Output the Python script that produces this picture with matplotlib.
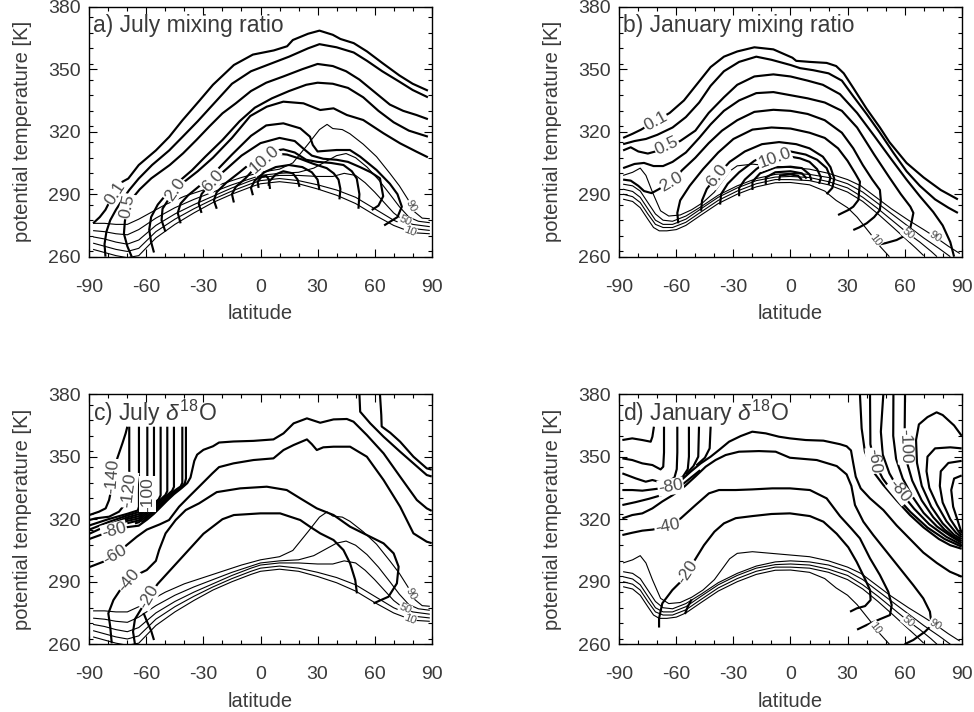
import numpy as np
import matplotlib
matplotlib.use("Agg")
import matplotlib.pyplot as plt
from matplotlib.ticker import FixedLocator, MultipleLocator

plt.rcParams['font.family'] = ['Liberation Sans', 'DejaVu Sans']
plt.rcParams['mathtext.fontset'] = 'custom'
plt.rcParams['mathtext.rm'] = 'Liberation Sans'
plt.rcParams['mathtext.it'] = 'Liberation Sans:italic'
plt.rcParams['axes.unicode_minus'] = False

# ---------------- axes / ticks ----------------
LAT_TICKS = [-90, -60, -30, 0, 30, 60, 90]
THETA_TICKS = [260, 290, 320, 350, 380]
TITLES = ["a) July mixing ratio", "b) January mixing ratio",
          r"c) July $\delta^{18}$O", r"d) January $\delta^{18}$O"]

# ---------------- thin lines (10..90), July: panels a and c ----------------
JUL_F90 = [(-88,276),(-82,276),(-76,275.5),(-70,275.5),(-64,278),(-58,281),(-50,285),(-40,289),(-30,292),(-20,295),(-10,298),(0,300.5),(10,302),(17,305),(25,314),(31,321),(35,323.5),(38,321.5),(43,321),(47,319),(54,314),(61,308),(68,300),(73,294),(77.5,287.5),(81,281.5),(85,278.5),(89,278.2)]
JUL_F70 = [(-88,272.5),(-82,272),(-76,271),(-70,270.5),(-64,273),(-55,278.5),(-45,283.5),(-35,287.5),(-25,291),(-15,294.5),(-5,297.5),(0,299),(10,300),(20,300.5),(28,302.5),(35,306),(40,308.5),(45,309.5),(50,307.5),(56,303),(62,297),(68,290),(73,284),(78,279),(83,277),(89,276.3)]
JUL_F50 = [(-88,269.5),(-82,268.5),(-76,267),(-70,266),(-64,268),(-55,275),(-45,280.5),(-35,285),(-25,289),(-15,293),(-5,296.5),(0,298),(10,299),(20,299),(30,298.5),(38,298.5),(44,300),(50,299),(55,295.5),(60,291),(65,286),(70,281),(75,277.5),(80,275.5),(89,274.4)]
JUL_F30 = [(-88,266.5),(-82,265),(-76,263.5),(-70,262.5),(-64,264),(-55,272),(-45,278),(-35,283),(-25,287.5),(-15,291.5),(-5,295),(0,296.5),(10,297.5),(20,296.5),(30,294.5),(40,292),(50,288.5),(60,283),(70,277.5),(80,273.5),(89,272.6)]
JUL_F10 = [(-88,263.5),(-82,262),(-76,260.5),(-70,259.5),(-64,260.5),(-55,269),(-45,275.5),(-35,281),(-25,286),(-15,290),(-5,293.5),(0,295),(10,296),(20,295),(30,292.5),(40,289.5),(50,285.5),(60,280),(70,275),(80,271.5),(89,271)]

# ---------------- thin lines, January: panels b and d ----------------
JAN_F90 = [(-88,299),(-83,300.5),(-79,302.5),(-76,299),(-72.6,291),(-68.3,282),(-64,279.5),(-58,280),(-52,282.5),(-46,286),(-40,291),(-36,296),(-32,301),(-28,303.6),(-20,304.4),(-10,303.6),(0,302.8),(10,302),(20,300),(30,297),(37,294),(45,288.5),(53,283),(62,277.5),(70,273),(76,269.5),(83,265),(89,261.5)]
JAN_F70 = [(-88,294.8),(-83,294),(-79,291.5),(-75,286),(-71,280.5),(-67,277.5),(-62,277),(-55,279.5),(-47,284),(-38,289.5),(-28,294),(-18,297.5),(-8,299.5),(0,300),(10,299.5),(20,298),(30,295),(38,291),(46,285.5),(54,280),(62,274.5),(70,269),(78,264),(84,260)]
JAN_F50 = [(-88,292.4),(-83,291.3),(-79,288.5),(-75,283),(-71,277.5),(-67,275.5),(-62,275.5),(-55,278),(-47,283),(-38,288.5),(-28,293),(-18,296.5),(-8,298.2),(0,298.5),(10,298),(20,296),(30,293),(38,288.5),(46,283),(54,277),(62,271),(68,267),(74,262.5),(77,260)]
JAN_F30 = [(-88,290),(-83,288.8),(-79,286),(-75,280.5),(-71,275.5),(-67,274),(-62,274),(-55,276.5),(-47,281.5),(-38,287),(-28,291.5),(-18,295),(-8,297),(0,297),(10,296.5),(20,294.5),(30,291),(38,286.5),(46,280.5),(54,274),(60,269),(66,264),(70,260.5)]
JAN_F10 = [(-88,287.6),(-83,286.5),(-79,283.5),(-75,278),(-72,274),(-69,272.4),(-65,272.4),(-60,273),(-55,275),(-47,280),(-38,285.5),(-28,290),(-18,293.5),(-8,295.5),(0,295.6),(10,294.5),(18,291.5),(24,287),(30,283.5),(35,279),(42,271),(47,265),(52,260)]

# ---------------- panel a: July mixing ratio (thick) ----------------
A_Q01 = [(-88,276),(-84.5,279),(-81.5,282.5),(-79,287),(-76.5,290.5),(-72.5,296),(-69.5,297.5),(-64,304),(-55,311),(-48,317.5),(-41,325.5),(-32,335),(-25,342.5),(-14,352),(-4,357),(7,359),(14,361),(17,364),(25,367),(31,368.5),(38,366.5),(42,364.5),(49,362.5),(56,358.5),(64,353),(73,347),(80,343),(88,339.7)]
A_Q02 = [(-81.5,260),(-82,266),(-81,272),(-79,277.5),(-76,282.5),(-72.5,287.5),(-69,292),(-64,297.5),(-57,304),(-48,311),(-41,317.5),(-33,325),(-25,333),(-15,343),(-5,349),(5,352.5),(15,356),(25,360),(31,362),(40,360.5),(49,358),(56,354),(64,349),(73,344),(80,340),(88,336.5)]
A_Q05 = [(-67.7,260),(-70,265),(-71.8,271),(-71.3,277),(-69.8,284),(-66.5,289),(-63.5,292.3),(-57.4,297.6),(-47.7,304),(-40.7,309.6),(-33.7,316),(-27,322.4),(-20,328.8),(-13,333.6),(-5,339.5),(3,343.5),(12,346.5),(22,350),(30,352.5),(38,351.5),(45,349),(52,345),(60,339),(68,333),(75,330),(82,328),(88,326)]
A_Q1 = [(-56,262),(-57.5,267),(-58.5,273),(-57.5,279),(-54,285),(-49,290.5),(-43,296),(-36,301.5),(-29,308),(-20,316),(-11,325),(-3,331.5),(6,336),(15,339.5),(24,342.5),(30,343.5),(38,343),(46,341),(54,336.5),(62,330),(70,324.5),(78,320.5),(88,317.6)]
A_Q2 = [(-50,272),(-52,277.5),(-51.5,283),(-48,288),(-45,292),(-40,296),(-33,301),(-25,307.5),(-15,317),(-5.4,327.5),(3.3,332),(12,334.4),(22.6,333.6),(31.4,330.4),(38.4,331.2),(45.4,328),(54,325.6),(64.7,319.2),(73.4,314.4),(82,310.4),(88,307.7)]
A_Q4 = [(-42,276),(-43.5,281),(-42,285.5),(-38,289.5),(-32,294),(-24,300.5),(-15,309),(-5,318),(3,323),(12,324),(20.9,321.6),(26,317.6),(27.5,313.6),(30,310.5),(40,311.2),(47,311.2),(52.4,308),(61,301.6),(68,295),(72,290),(74.3,284),(72,279),(65,275)]
A_Q6 = [(-31,281),(-32.5,285.5),(-31,290),(-27,294.5),(-25,296.5),(-18,302),(-10,308.5),(0,314.5),(10,317),(18,315.5),(23,311.5),(27,308.5),(33,307),(40,306.5),(46,305.5),(52.3,303),(58,300.5),(62.8,297.6),(64.5,289),(62,284.5),(58.5,282.4)]
A_Q8 = [(-23,283),(-24.5,287),(-23,291),(-18,295.5),(-11,300.5),(-3,306.5),(5,310.5),(12,311.5),(18,310),(24,306.5),(30,305.5),(37,305),(43.6,304),(48,301),(50.6,297.5),(52,290),(51.5,283)]
A_Q10 = [(-14,286),(-15,290),(-13,293.5),(-8,297.5),(-2,303.5),(3,307.5),(8,309.5),(14,309),(20.8,307),(28,304.5),(34.8,302.5),(38.5,300),(41,297),(42,292.5),(41.5,287.5)]
A_Q12 = [(-4,289.5),(-5,293),(-3,296.5),(2,300.5),(8,303),(15,304),(22,303),(27,300.5),(30,297),(31,292)]
A_Q14 = [(5,292.5),(4.5,296),(8,299.5),(12,301),(17,300),(19.5,297),(20.5,293.5)]
A_Q16 = [(-1,293),(-1.5,296),(0.5,298.3),(3,298.8),(4.5,297),(4.3,294)]

# ---------------- panel b: January mixing ratio (thick) ----------------
B_Q01 = [(-88,317),(-83,319),(-78.5,321),(-74,323.5),(-70,325.5),(-63.5,329),(-56,335),(-49,343),(-42,351),(-35,356),(-28,358.5),(-19,360.5),(-9,359.5),(-4,357.5),(1,355.5),(3,354),(10,353.5),(19,353),(24,351.5),(28,348),(33,341),(40,331),(47,322),(52,315),(61,305),(70,298),(79,292),(88,287.5)]
B_Q02 = [(-88,314),(-82,315.5),(-76,316.5),(-70,318.5),(-62,322),(-55,327),(-48,334),(-42,342),(-35,349),(-27,353.5),(-18,356),(-10,354.5),(0,352),(5,350.5),(12,349.5),(20,348),(27,344.5),(33,337),(40,328.5),(47,319.5),(54,310),(61,301),(68,294),(76,287.5),(83,283.5),(88,281)]
B_Q05 = [(-88,311),(-84,312.5),(-80,310.5),(-75,309.5),(-71,310.5),(-65,313),(-58,315.5),(-50,320.5),(-43,329),(-35,336.5),(-28,342.5),(-19,346.5),(-9,347.5),(0,346.5),(9,344.5),(17,342.5),(26,338),(35,329),(44,318),(52,308),(61,297),(68,289),(75,281.5),(80,275),(84,267),(86,260)]
B_Q1 = [(-88,302.5),(-82,304.5),(-77,305),(-72,303.5),(-67,303.5),(-62,305.5),(-55,310),(-48,317),(-42,323.5),(-35,330),(-27,335),(-18,338.5),(-9,339),(0,337.5),(9,336),(18,334),(27,330),(35,322),(44,309),(52,298),(58,290),(63,284),(64.6,281),(63.5,276),(62.8,273),(60,270),(55.8,268),(50,266.5),(45.3,265.6)]
B_Q2 = [(-88,297),(-84,296.5),(-80,294),(-77,291.5),(-73,290.5),(-69,292.5),(-62.5,296),(-57,301.5),(-50,307.5),(-43,314.5),(-36,320.5),(-28,325.5),(-19,329.5),(-9,330.5),(0,330),(9,328.5),(18,325.5),(27,319.5),(33,312),(38,304),(43,297),(47,292),(47.5,287),(47,282.4),(44,279),(40,276),(36,274),(33,272.8)]
B_Q4 = [(-59,276),(-59.5,281),(-58,287),(-53,294),(-46,302),(-38,310),(-30,316.5),(-20,321),(-10,322),(0,321.5),(10,319.5),(18,317),(25,312),(30,306),(34,300),(36.5,296),(36,290.5),(35.7,287.2),(33,284),(30.4,282.4),(25,280)]
B_Q6 = [(-47,282),(-46.5,287),(-44,292.5),(-38.5,299),(-32,305.5),(-24,310.5),(-15,314),(-6,315),(3,314),(10,312),(17,308),(21,303),(23,297.5),(22,293),(19,290)]
B_Q8 = [(-37,285),(-36.5,290),(-33,295),(-27,300.5),(-19,306),(-10,310),(0,310.5),(8,309),(14,306.5),(19,302.5),(21,298),(20,294.5)]
B_Q10 = [(-27,289),(-27,293),(-24,297),(-18,302),(-12,306),(-6,308),(0,308),(5,307.2),(10,305.5),(14,302),(16,298),(15,295)]
B_Q12 = [(-20,292),(-20,296),(-16,300),(-8,302.8),(0,303.2),(6,302.5),(10,299.5),(11,296.5)]
B_Q14 = [(-13,294.5),(-13,298),(-8,300.5),(0,301),(6,300),(8.5,297.5)]
B_Q16 = [(-6,296.5),(-5.5,299),(0,299.5),(4,298.8),(6,296.8)]

# ---------------- panel c: July delta18O (thick) ----------------
C_M140 = [(-90,322),(-84.9,323.6),(-81.4,325.2),(-79.6,329.2),(-78.5,334),(-77.9,340.4),(-76.5,346),(-74.4,351.6),(-72.6,356.4),(-70.9,361.2),(-70,364.4)]
C_M120 = [(-90,319.6),(-86.7,320.4),(-79.6,321.2),(-74.4,323.6),(-70.9,327.6),(-69.5,331),(-69.1,334),(-69,340),(-69,364.4)]
C_K0 = [(-90,317),(-80,320),(-70,322.6),(-64.5,324.2),(-63.9,326),(-63.9,340),(-63.9,364.4)]
C_K1 = [(-90,315),(-80,318.6),(-70,321.8),(-64,323.4),(-60.5,325.8),(-59.5,327.5),(-59.5,340),(-59.5,364.4)]
C_K2 = [(-90,313),(-80,317.2),(-70,320.9),(-64,322.4),(-59.5,325.7),(-57,327.6),(-56,329.5),(-56,340),(-56,364.4)]
C_K3 = [(-78,317.2),(-70,320.1),(-64,321.4),(-59.5,324.8),(-56,327.5),(-53.5,329.6),(-52.5,331.5),(-52.5,345),(-52.5,364.4)]
C_K4 = [(-74,317.6),(-70,319.2),(-64,320.4),(-59.5,323.8),(-56,326.6),(-52.5,329.5),(-50,331.6),(-49,333.5),(-49,345),(-49,364.4)]
C_K5 = [(-70,318.1),(-64,319.4),(-59.5,322.9),(-56,325.6),(-52.5,328.6),(-49,331.6),(-46.5,333.6),(-45.5,335.5),(-45.5,350),(-45.5,364.4)]
C_K6 = [(-66,318),(-64,318.5),(-59.5,321.8),(-56,324.5),(-52.5,327.6),(-49,330.6),(-45.5,333.5),(-42,335.7),(-41.1,337.5),(-41.1,350),(-41.1,364.4)]
C_K7 = [(-62.5,318.4),(-59.5,320.9),(-56,323.6),(-52.5,326.7),(-49,329.8),(-45.5,332.7),(-41.5,335.6),(-39.8,337.2),(-39.2,339.5),(-39.2,350),(-39.2,364.4)]
C_M80 = [(-90,310.5),(-80,313.8),(-70,316.2),(-64,316.9),(-59.5,319.9),(-56,322.6),(-52.5,325.8),(-49,329),(-45.5,332),(-41.5,334.9),(-38.5,337.3),(-36.8,340),(-35.8,344),(-34.8,348),(-33.3,351),(-30,353.3),(-25,355),(-21.8,356.8),(-14.2,357.3),(-3.7,357.6),(6.8,358.3),(12.1,361.2),(17.4,366),(24.4,368.4),(31.4,366.3),(38.4,367.9),(45.4,368.1),(48.9,366.8),(55.9,360.4),(64.7,351.6),(73.4,340.4),(82.2,329.2),(87.4,325.2),(90,324)]
C_M60 = [(-90,297),(-82.6,299.6),(-76.4,302.8),(-70.3,307.6),(-65,311.6),(-59.8,315),(-53,317.5),(-48.1,319.6),(-42.8,326),(-37.6,330.8),(-32.3,335.6),(-25.3,342),(-21.8,345),(-14.2,346.8),(-3.7,348.4),(6.8,349.2),(12.1,353.2),(17.4,355.6),(24.4,358.3),(27,356),(29.6,353.2),(33,354.5),(38.4,354.8),(47.1,354.8),(55.9,350),(64.7,338.8),(73.4,326),(80.4,313.2),(87.4,309.2),(90,308.5)]
C_M40 = [(-78.2,260.4),(-79,268.4),(-80,274.8),(-77.3,281.2),(-73.8,286),(-69.4,290.8),(-66.8,292.5),(-59.8,295.6),(-55,300),(-53.3,305.2),(-49.9,313.2),(-44.6,319.6),(-39.3,324.4),(-32.3,327.6),(-23,333),(-10.7,334.8),(3.3,335.6),(13.8,334),(20.9,330),(29.6,325.2),(38.4,322),(47.1,316.4),(55.9,312.4),(64.7,308.4),(70,303.6),(72.6,297.2),(71.7,289.2),(67.3,282.8),(59.4,279.6)]
C_M20 = [(-66,260),(-67,266),(-66,272),(-62,278),(-58.9,282.8),(-54,289),(-46,297),(-38,305),(-30,313),(-20,320),(-14,322),(0,322.8),(10.3,322.8),(15.6,321.2),(20.9,319.6),(26,316.4),(31.4,313.2),(38.4,310),(43.6,305.2),(47.1,298.8),(49.8,290.8),(50.7,284.4)]
C_HOOK = [(-61.5,275),(-59.5,270.5),(-57.5,266.5),(-56,262)]
C_N1 = [(52,380),(52.4,371.6),(57.7,366),(64.7,359.6),(73.4,352.4),(80.4,346.8),(87.4,341.2),(90,340.5)]
C_N2 = [(62.8,380),(63.5,370),(63.7,364.5),(68.2,361.5),(73.4,357.2),(80.4,350),(87.4,344.4),(90,343.8)]

# ---------------- panel d: January delta18O (thick) ----------------
D_M80 = [(-88.4,334),(-83.2,334),(-77.9,333.7),(-72.6,334.3),(-68.3,334.8),(-63,335.6),(-57.7,338.5),(-52.5,342.8),(-47.2,346.8),(-42,350),(-37.6,353.2),(-32.3,357.2),(-26.2,359.9),(-20.1,362),(-13,361.2),(-6.1,359.6),(-0.3,358.8),(8,358),(17.3,357.7),(26,356),(29.5,355),(31.8,353),(33,346.8),(34.3,340.4),(36.9,334.8),(41.8,330),(48.8,324.4),(55.8,317),(62.8,310.5),(69.8,304),(76.9,299),(83.8,294.8),(90,292.4)]
D_M60 = [(-88.4,320.4),(-83.2,322),(-77.9,322.8),(-72.6,325.2),(-67.4,328.5),(-62,331.5),(-56,335.5),(-50,340.5),(-44.6,345.2),(-39.4,348.4),(-34.1,350.8),(-27.1,352.4),(-16.6,352.7),(-7.8,352.4),(-0.3,349.5),(13.8,348.4),(24.3,345.5),(29.5,341.5),(32,336),(33.9,326.8),(38.3,318.8),(43.5,312.4),(50.5,304.4),(57.5,296.4),(64.5,288.4),(69.8,282),(73.3,275.6),(74.2,269.2),(70.7,266),(64.5,262),(60,260)]
D_M70 = [(-88.4,326.8),(-81.4,328.2),(-74.4,329.8),(-68,331.5),(-62,333.8),(-57,336.5),(-52,340.2),(-47.5,343.5)]
D_M40 = [(-88.4,312.4),(-83.2,313.5),(-77.9,314.5),(-72.6,315),(-64.7,316.4),(-57.7,320.4),(-49.9,326.8),(-42.9,332.4),(-37.6,334),(-28.8,334),(-20.1,334.3),(-9.6,334.8),(-0.3,334.8),(10.2,334),(19,330),(26,321.5),(32,315.5),(36.5,310.8),(41.8,301.2),(47,293.2),(51.4,285.2),(53.2,278.8),(52.3,274),(47,272),(40,269.2),(35,267)]
D_M20 = [(-69.1,268),(-69.1,272.4),(-67.4,279.6),(-62.1,286),(-57.7,290),(-54.2,294.8),(-49.9,301),(-45.5,307.5),(-40,314),(-35,318),(-28.8,320.5),(-20,321.5),(-10,322.5),(-0.3,322.8),(10.2,321.5),(17.3,318.8),(24.3,313),(30.4,306.5),(34.8,299.5),(38.6,292.4),(41.8,286),(42.1,281.2),(39.2,278.3),(34.8,277.2),(31.3,275.6)]
D_HOOK = [(-55.5,274.5),(-54,278),(-52,281.5)]
D_S1 = [(-88.4,358),(-83.2,358.8),(-77.9,358),(-73.5,357.2),(-72.6,359.6),(-71.8,364.4)]
D_S2 = [(-88.4,349.2),(-83.2,348.4),(-77.9,346.8),(-72.6,346),(-68.3,343.9),(-66.9,345.2),(-66.5,352),(-66.5,364.4)]
D_S3 = [(-88.4,342),(-81.4,339.6),(-76.1,338),(-72.6,338.8),(-67.4,337.5),(-63.5,338.5),(-61,340),(-59.8,344),(-59.5,352),(-59.5,364.4)]
D_S4 = [(-60.5,338.2),(-56.5,340.5),(-54,344),(-53.4,350),(-53.4,364.4)]
D_S5 = [(-55,341.5),(-51,345.5),(-48.5,350),(-48.1,364.4)]
D_S6 = [(-49.5,345.8),(-45,349.5),(-42.5,354),(-42,364.4)]
D_N1 = [(36.5,380),(37.4,363.6),(39.1,352.4),(43.5,342.8),(48.8,336.4),(55.8,329),(62.8,322),(70,316),(78,310.5),(84,307.5),(90,305.8)]
D_N2 = [(41.8,380),(42,356),(44,347.5),(48.5,339.5),(55,331.5),(63,323.5),(72,316),(81,310.5),(90,306.8)]
D_N3 = [(48.8,380),(47.5,362),(48.5,351),(52,342),(57,334),(65,325),(73,317.5),(82,311.5),(90,307.7)]
D_N4 = [(54.1,380),(54,360),(55.5,349),(59,339.5),(64,331),(70,323),(77,316.5),(84,312),(90,308.6)]
D_N5 = [(60.2,380),(60,360),(61,348),(64,338.5),(69,329),(75,321),(81,315),(86,311.5),(90,309.5)]
D_N6 = [(90,360),(86,365),(80,370),(76.8,371.3),(72,369),(67.5,365.5),(66,358),(66.5,347),(69,336),(74,326),(80,318),(86,312.5),(90,310.4)]
D_N7 = [(90,354),(84,354.5),(76,354),(72,350),(71.5,343),(73,335),(77,327),(82,319),(87,313.5),(90,311.3)]
D_N8 = [(90,348),(83,347),(79,343),(78.5,336),(80,328),(84,320),(88,314.5),(90,312.2)]
D_N9 = [(90,341),(86,339.5),(84.5,334),(85.5,326),(88,319),(90,313.2)]

# ---------------- grouping ----------------
JUL_THIN = [JUL_F10, JUL_F30, JUL_F50, JUL_F70, JUL_F90]
JAN_THIN = [JAN_F10, JAN_F30, JAN_F50, JAN_F70, JAN_F90]
A_THICK = [A_Q01, A_Q02, A_Q05, A_Q1, A_Q2, A_Q4, A_Q6, A_Q8, A_Q10, A_Q12, A_Q14, A_Q16]
B_THICK = [B_Q01, B_Q02, B_Q05, B_Q1, B_Q2, B_Q4, B_Q6, B_Q8, B_Q10, B_Q12, B_Q14, B_Q16]
C_THICK = [C_M140, C_M120, C_K0, C_K1, C_K2, C_K3, C_K4, C_K5, C_K6, C_K7, C_M80, C_M60, C_M40, C_M20,
           C_HOOK, C_N1, C_N2]
D_THICK = [D_M80, D_M60, D_M70, D_M40, D_M20, D_HOOK, D_S1, D_S2, D_S3, D_S4, D_S5, D_S6,
           D_N1, D_N2, D_N3, D_N4, D_N5, D_N6, D_N7, D_N8, D_N9]

# labels: (text, line, lat, theta, rotation or None)
A_LABELS = [("0.1", A_Q01, -76.4, 290.4, None), ("0.5", A_Q05, -69.8, 284, None), ("2.0", A_Q2, -45, 292, None),
            ("6.0", A_Q6, -25, 296.5, None), ("10.0", A_Q10, 2, 306.5, None)]
B_LABELS = [("0.1", B_Q01, -71, 325, None), ("0.5", B_Q05, -65, 313, None), ("2.0", B_Q2, -62.5, 296, None),
            ("6.0", B_Q6, -38.5, 299, None), ("10.0", B_Q10, -8.5, 307.5, None)]
C_LABELS = [("-140", C_M140, -77.9, 340.4, None), ("-120", C_M120, -69.1, 334, None),
            ("-100", C_K1, -59.5, 332, None), ("-80", C_M80, -77, 314.5, None),
            ("-60", C_M60, -76.4, 302.8, None), ("-40", C_M40, -69.4, 290.8, None),
            ("-20", C_M20, -58.9, 282.8, None)]
D_LABELS = [("-80", D_M80, -63, 335.6, None), ("-40", D_M40, -64.7, 316.4, None), ("-20", D_M20, -54.2, 294.8, None),
            ("-60", D_N2, 43.5, 348, -84), ("-100", D_N5, 60.8, 355, -88), ("-80", D_N3, 57.5, 333.5, None)]
JUL_THIN_LABELS = [("90", JUL_F90, 78.7, 284, None), ("50", JUL_F50, 76, 277, None), ("10", JUL_F10, 78.6, 272, None)]
JAN_THIN_LABELS = [("10", JAN_F10, 45, 268, None), ("50", JAN_F50, 62, 271, None), ("90", JAN_F90, 76, 269.5, None)]

TXT = '#3a3a3a'
LBL = '#4a4a4a'
W, H = 974, 712

fig = plt.figure(figsize=(W / 100, H / 100), dpi=100)


def make_axes(x0, y0):
    return fig.add_axes([x0 / W, 1 - (y0 + 250) / H, 342.4 / W, 250 / H])


def style(ax, title):
    ax.set_xlim(-90, 90)
    ax.set_ylim(260, 380)
    ax.xaxis.set_major_locator(FixedLocator(LAT_TICKS))
    ax.xaxis.set_minor_locator(MultipleLocator(10))
    ax.yaxis.set_major_locator(FixedLocator(THETA_TICKS))
    ax.yaxis.set_minor_locator(MultipleLocator(7.5))
    ax.tick_params(which='both', direction='in', top=True, right=True, width=0.8,
                   labelsize=14, labelcolor=TXT)
    ax.tick_params(which='major', length=6)
    ax.tick_params(which='minor', length=3)
    ax.tick_params(axis='x', pad=16)
    ax.tick_params(axis='y', pad=6)
    for s in ax.spines.values():
        s.set_linewidth(1.0)
    ax.set_xlabel('latitude', fontsize=14.5, color=TXT)
    ax.xaxis.set_label_coords(0.5, -0.19)
    ax.set_ylabel('potential temperature [K]', fontsize=14.5, color=TXT)
    ax.yaxis.label.set_va('center')
    ax.yaxis.set_label_coords(-0.195, 0.5)
    ax.text(0.012, 0.925, title, transform=ax.transAxes, fontsize=16.5, color=TXT,
            ha='left', va='center', zorder=6)


def draw_lines(ax, lines, lw):
    for pts in lines:
        arr = np.asarray(pts, float)
        ax.plot(arr[:, 0], arr[:, 1], color='k', lw=lw, solid_joinstyle='round',
                solid_capstyle='butt', zorder=2)


def put_label(ax, text, pts, x, y, rot, size):
    P = ax.transData.transform(np.asarray(pts, float))
    q = ax.transData.transform((x, y))
    best = None
    for k in range(len(P) - 1):
        a, b = P[k], P[k + 1]
        ab = b - a
        t = np.clip(np.dot(q - a, ab) / max(np.dot(ab, ab), 1e-9), 0, 1)
        c = a + t * ab
        d = np.hypot(*(q - c))
        if best is None or d < best[0]:
            best = (d, c, ab)
    _, c, ab = best
    ang = np.degrees(np.arctan2(ab[1], ab[0]))
    if ang > 90:
        ang -= 180
    elif ang < -90:
        ang += 180
    if rot is not None:
        ang = rot
    xd, yd = ax.transData.inverted().transform(c)
    ax.text(xd, yd, text, rotation=ang, rotation_mode='anchor', ha='center', va='center',
            fontsize=size, color=LBL, zorder=5,
            bbox=dict(boxstyle='square,pad=0.04', fc='white', ec='none'))


panels = [
    (make_axes(89.3, 6.67), TITLES[0], A_THICK, JUL_THIN, A_LABELS, JUL_THIN_LABELS),
    (make_axes(619.3, 6.67), TITLES[1], B_THICK, JAN_THIN, B_LABELS, JAN_THIN_LABELS),
    (make_axes(89.3, 394.2), TITLES[2], C_THICK, JUL_THIN, C_LABELS, JUL_THIN_LABELS),
    (make_axes(619.3, 394.2), TITLES[3], D_THICK, JAN_THIN, D_LABELS, JAN_THIN_LABELS),
]

for ax, title, thick, thin, labels, thin_labels in panels:
    style(ax, title)
    draw_lines(ax, thin, 0.8)
    draw_lines(ax, thick, 1.55)
    for text, pts, x, y, rot in labels:
        put_label(ax, text, pts, x, y, rot, 12.5)
    for text, pts, x, y, rot in thin_labels:
        put_label(ax, text, pts, x, y, rot, 8)

fig.savefig('out.png', dpi=100)
